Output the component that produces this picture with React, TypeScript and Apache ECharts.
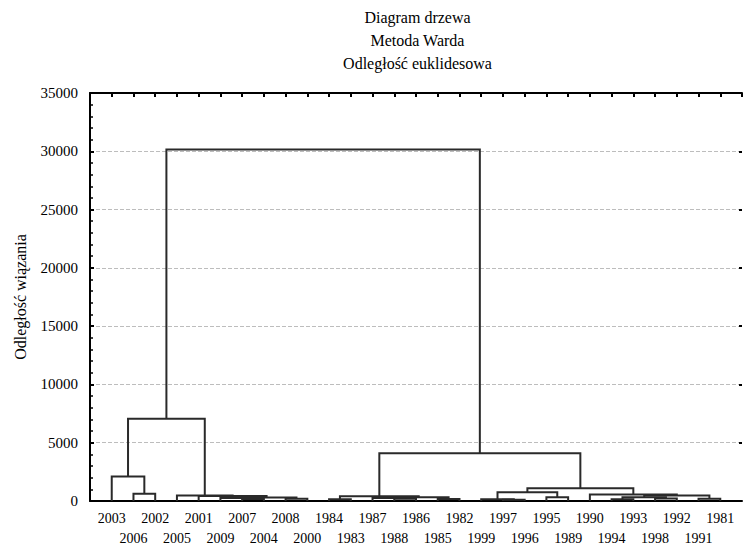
import React, { useEffect, useRef } from "react";
import * as echarts from "echarts";

// Leaf order along the horizontal axis (years)
const leaves = [
  "2003", "2006", "2002", "2005", "2001", "2009", "2007", "2004", "2008", "2000",
  "1984", "1983", "1987", "1988", "1986", "1985", "1982", "1999", "1997", "1996",
  "1995", "1989", "1990", "1994", "1993", "1998", "1992", "1991", "1981",
];

// Linkage: node ids 0..28 are leaves, merge k creates node 29 + k
const mergeLeft = [1, 0, 6, 5, 8, 32, 4, 3, 30, 10, 13, 12, 15, 40, 38, 18, 17, 20, 45, 23, 25, 48, 27, 50, 22, 47, 43, 37];
const mergeRight = [2, 29, 7, 31, 9, 33, 34, 35, 36, 11, 14, 39, 16, 41, 42, 19, 44, 21, 46, 24, 26, 49, 28, 51, 52, 53, 54, 55];
const mergeHeight = [620, 2100, 180, 250, 200, 300, 420, 480, 7050, 150, 200, 260, 180, 330, 400, 100, 150, 320, 760, 150, 220, 330, 200, 470, 560, 1100, 4100, 30150];

const yTicks = [0, 5000, 10000, 15000, 20000, 25000, 30000, 35000];

const titleLines = ["Diagram drzewa", "Metoda Warda", "Odległość euklidesowa"];
const yAxisName = "Odległość wiązania";

const FONT = "Liberation Serif";

function buildSegments() {
  const n = leaves.length;
  const xs: number[] = leaves.map((_, i) => i);
  const hs: number[] = leaves.map(() => 0);
  const out: { coords: number[][] }[] = [];
  for (let k = 0; k < mergeLeft.length; k++) {
    const l = mergeLeft[k];
    const r = mergeRight[k];
    const h = mergeHeight[k];
    out.push({
      coords: [
        [xs[l], hs[l]],
        [xs[l], h],
        [xs[r], h],
        [xs[r], hs[r]],
      ],
    });
    xs[n + k] = (xs[l] + xs[r]) / 2;
    hs[n + k] = h;
  }
  return out;
}

export default function App() {
  const ref = useRef<HTMLDivElement>(null);
  useEffect(() => {
    if (!ref.current) return;
    const chart = echarts.init(ref.current, undefined, { renderer: "svg" });
    const segs = buildSegments();
    const yMax = yTicks[yTicks.length - 1];
    const step = yTicks[1] - yTicks[0];
    chart.setOption({
      animation: false,
      backgroundColor: "#ffffff",
      textStyle: { fontFamily: FONT, color: "#000" },
      graphic: [
        {
          type: "text",
          x: 417.5,
          y: 6,
          style: {
            text: titleLines.join("\n"),
            textAlign: "center",
            fontFamily: FONT,
            fontSize: 16,
            lineHeight: 23,
            fill: "#000",
          },
        },
      ],
      grid: { left: 90, top: 93, width: 655, height: 410, containLabel: false },
      xAxis: [
        {
          type: "value",
          position: "bottom",
          min: -1,
          max: leaves.length,
          interval: 1,
          axisLine: { show: true, onZero: false, lineStyle: { color: "#000", width: 2 } },
          axisTick: { show: false },
          splitLine: { show: false },
          axisLabel: {
            show: true,
            margin: 7,
            fontFamily: FONT,
            fontSize: 14,
            lineHeight: 20,
            color: "#000",
            showMinLabel: true,
            showMaxLabel: true,
            formatter: (v: number) => {
              const i = Math.round(v);
              if (Math.abs(v - i) > 1e-6 || i < 0 || i >= leaves.length) return "";
              return i % 2 ? "\n" + leaves[i] : leaves[i];
            },
          },
        },
        {
          type: "value",
          position: "top",
          min: -1,
          max: leaves.length,
          interval: 1,
          axisLine: { show: true, onZero: false, lineStyle: { color: "#000", width: 2 } },
          axisTick: { show: true, inside: true, length: 4, lineStyle: { color: "#000", width: 2 } },
          axisLabel: { show: false },
          splitLine: { show: false },
        },
      ],
      yAxis: [
        {
          type: "value",
          position: "left",
          min: 0,
          max: yMax,
          interval: step,
          name: yAxisName,
          nameLocation: "middle",
          nameGap: 62,
          nameTextStyle: { fontFamily: FONT, fontSize: 16, color: "#000" },
          axisLine: { show: true, onZero: false, lineStyle: { color: "#000", width: 2 } },
          axisTick: { show: true, inside: true, length: 4, lineStyle: { color: "#000", width: 2 } },
          minorTick: { show: true, splitNumber: 5, length: 3, lineStyle: { color: "#000", width: 1.5 } },
          axisLabel: {
            margin: 12,
            fontFamily: FONT,
            fontSize: 15,
            color: "#000",
            formatter: (v: number) => String(v),
          },
          splitLine: {
            show: true,
            lineStyle: { color: "#bdbdbd", type: [4, 2], width: 1 },
          },
        },
        {
          type: "value",
          position: "right",
          min: 0,
          max: yMax,
          interval: step,
          axisLine: { show: false, onZero: false },
          axisTick: { show: true, inside: true, length: 3, lineStyle: { color: "#000", width: 2 } },
          axisLabel: { show: false },
          splitLine: { show: false },
        },
      ],
      series: [
        {
          type: "lines",
          coordinateSystem: "cartesian2d",
          xAxisIndex: 0,
          yAxisIndex: 0,
          polyline: true,
          silent: true,
          lineStyle: { color: "#2a2a2a", width: 2, opacity: 1 },
          data: segs,
          z: 5,
        },
      ],
    });
    return () => chart.dispose();
  }, []);
  return (
    <div
      ref={ref}
      style={{ position: "absolute", left: 0, top: 0, width: 745, height: 548, background: "#fff" }}
    />
  );
}
